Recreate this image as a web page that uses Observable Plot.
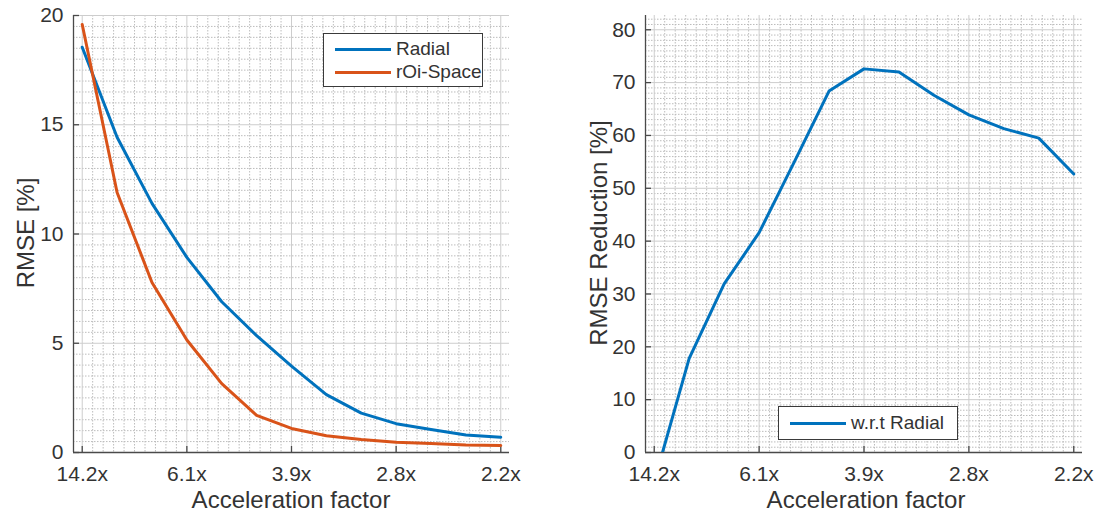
<!DOCTYPE html>
<html><head><meta charset="utf-8">
<script src="https://cdn.jsdelivr.net/npm/d3@7"></script>
<script src="https://cdn.jsdelivr.net/npm/@observablehq/plot@0.6"></script>
<style>
body{margin:0;background:#fff;}
#wrap{position:relative;width:1104px;height:518px;font-family:"Liberation Sans",Arial,sans-serif;color:#333;overflow:hidden;}
.panel{position:absolute;top:0;}
.title{position:absolute;font-size:24px;white-space:nowrap;line-height:1;}
.legend{position:absolute;background:#fff;border:1px solid #3a3a3a;font-size:19px;box-sizing:border-box;}
.legend .sw{position:absolute;height:3px;}
.legend .lt{position:absolute;line-height:1;white-space:nowrap;}
</style></head><body><div id="wrap"></div>
<script>
// ---- data ----
const accelLabels = ["14.2x", "6.1x", "3.9x", "2.8x", "2.2x"];
const accelTickIndex = [1, 4, 7, 10, 13];
const sampleIndex = [1, 2, 3, 4, 5, 6, 7, 8, 9, 10, 11, 12, 13];
const radialRMSE = [18.55, 14.43, 11.4, 8.93, 6.9, 5.35, 3.95, 2.65, 1.8, 1.32, 1.05, 0.8, 0.7];
const roiSpaceRMSE = [19.59, 11.9, 7.78, 5.15, 3.15, 1.7, 1.1, 0.77, 0.6, 0.47, 0.41, 0.34, 0.32];
const reductionWrtRadial = [-5.5, 17.8, 31.9, 41.6, 54.9, 68.4, 72.6, 72.0, 67.6, 63.9, 61.3, 59.5, 52.7];
const leftYTicks = [0, 5, 10, 15, 20];
const rightYTicks = [0, 10, 20, 30, 40, 50, 60, 70, 80];

const BLUE = "#0072BD", ORANGE = "#D95319";
const H = 518, MT = 15, MB = 66;
const xDomain = [0.75, 13.25];

function makePanel({width, marginLeft, marginRight, yDomain, yTicks, yMinorStep, series}) {
  const frameW = width - marginLeft - marginRight;
  const frameH = H - MT - MB;
  const xMinor = d3.range(0, 41).map(k => 1 + k * 0.3).filter(v => v <= xDomain[1] && Math.abs((v - 1) / 3 - Math.round((v - 1) / 3)) > 1e-6);
  const yMinor = d3.range(yDomain[0], yDomain[1] + 1e-9, yMinorStep).filter(v => !yTicks.some(t => Math.abs(t - v) < 1e-9));
  const marks = [
    Plot.ruleX(xMinor, {x: d => d, stroke: "#bcbcbc", strokeDasharray: "1.5,1.5", strokeWidth: 1}),
    Plot.ruleY(yMinor, {y: d => d, stroke: "#bcbcbc", strokeDasharray: "1.5,1.5", strokeWidth: 1}),
    Plot.ruleX(accelTickIndex, {x: d => d, stroke: "#cdcdcd", strokeWidth: 1}),
    Plot.ruleY(yTicks, {y: d => d, stroke: "#cdcdcd", strokeWidth: 1}),
    Plot.ruleX([xDomain[0]], {x: d => d, stroke: "#4a4a4a", strokeWidth: 1.3}),
    Plot.ruleY([yDomain[0]], {y: d => d, stroke: "#4a4a4a", strokeWidth: 1.3}),
    Plot.tickX(accelTickIndex, {x: d => d, insetTop: frameH - 6, stroke: "#4a4a4a", strokeWidth: 1.3}),
    Plot.tickY(yTicks, {y: d => d, insetRight: frameW - 6, stroke: "#4a4a4a", strokeWidth: 1.3}),
    Plot.axisX({ticks: accelTickIndex, tickFormat: d => accelLabels[accelTickIndex.indexOf(d)], tickSize: 0, tickPadding: 14, label: null}),
    Plot.axisY({ticks: yTicks, tickSize: 0, tickPadding: 10, label: null}),
  ];
  for (const s of series) {
    const data = sampleIndex.map((i, k) => ({i, v: s.values[k]}));
    marks.push(Plot.line(data, {x: "i", y: "v", stroke: s.color, strokeWidth: 3, clip: true}));
  }
  return Plot.plot({
    width, height: H, marginLeft, marginRight, marginTop: MT, marginBottom: MB,
    x: {domain: xDomain},
    y: {domain: yDomain},
    style: {fontSize: "21px", fontFamily: "'Liberation Sans', Arial, sans-serif", color: "#333", background: "transparent", overflow: "visible"},
    marks
  });
}

const wrap = document.getElementById("wrap");

const left = makePanel({
  width: 552, marginLeft: 73, marginRight: 43,
  yDomain: [0, 20], yTicks: leftYTicks, yMinorStep: 0.5,
  series: [{values: radialRMSE, color: BLUE}, {values: roiSpaceRMSE, color: ORANGE}]
});
left.classList.add("panel"); left.style.left = "0px";
wrap.appendChild(left);

const right = makePanel({
  width: 552, marginLeft: 93, marginRight: 22,
  yDomain: [0, 82.7], yTicks: rightYTicks, yMinorStep: 1,
  series: [{values: reductionWrtRadial, color: BLUE}]
});
right.classList.add("panel"); right.style.left = "552px";
wrap.appendChild(right);

function addTitle(text, x, y, rotate) {
  const d = document.createElement("div");
  d.className = "title";
  d.textContent = text;
  d.style.left = x + "px"; d.style.top = y + "px";
  d.style.transform = "translate(-50%,-50%)" + (rotate ? " rotate(-90deg)" : "");
  wrap.appendChild(d);
}
addTitle("Acceleration factor", 291, 500, false);
addTitle("Acceleration factor", 866, 500, false);
addTitle("RMSE [%]", 26, 233, true);
addTitle("RMSE Reduction [%]", 599, 233, true);

function addLegend(x, y, w, h, items) {
  const L = document.createElement("div");
  L.className = "legend";
  Object.assign(L.style, {left: x + "px", top: y + "px", width: w + "px", height: h + "px"});
  items.forEach(it => {
    const sw = document.createElement("div");
    sw.className = "sw";
    Object.assign(sw.style, {left: it.lx + "px", width: it.lw + "px", top: (it.cy - 1.5) + "px", background: it.color});
    L.appendChild(sw);
    const t = document.createElement("div");
    t.className = "lt";
    t.textContent = it.label;
    Object.assign(t.style, {left: it.tx + "px", top: (it.cy - 10) + "px"});
    L.appendChild(t);
  });
  wrap.appendChild(L);
}
addLegend(323, 33, 160, 54, [
  {label: "Radial", color: BLUE, lx: 11, lw: 56, tx: 72, cy: 15},
  {label: "rOi-Space", color: ORANGE, lx: 11, lw: 56, tx: 72, cy: 38}
]);
addLegend(778, 406, 180, 34, [
  {label: "w.r.t Radial", color: BLUE, lx: 11, lw: 56, tx: 72, cy: 16}
]);
</script>
</body></html>
